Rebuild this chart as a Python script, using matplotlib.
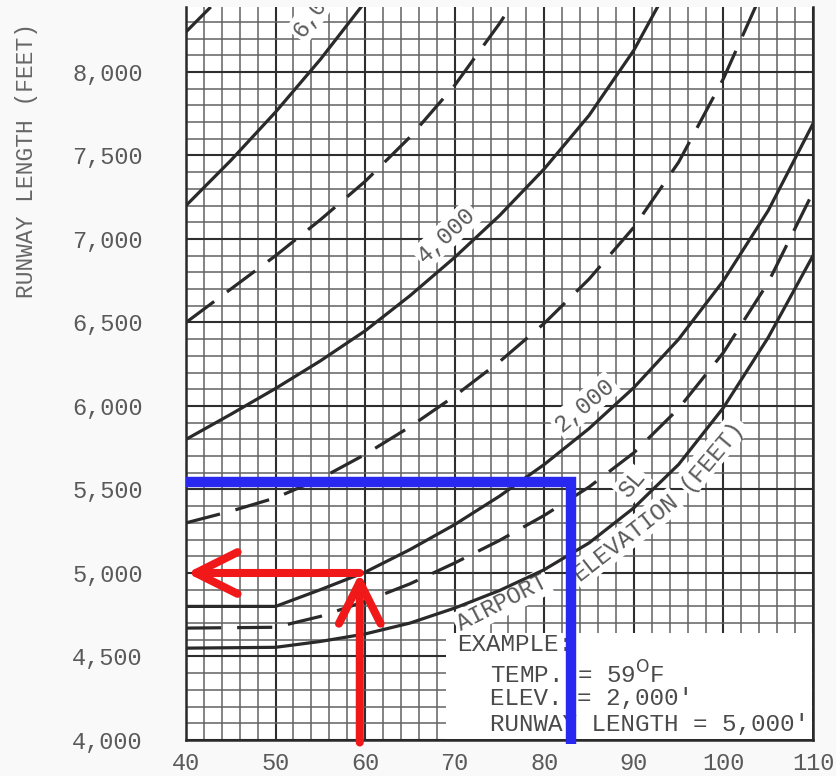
import matplotlib
matplotlib.use("Agg")
import matplotlib.pyplot as plt
from matplotlib.patches import Rectangle
from matplotlib.ticker import MultipleLocator, FixedLocator, FixedFormatter

# ---------------- data ----------------
sl_temp = [40, 50, 55, 60, 65, 70, 75, 80, 85, 90, 95, 100, 105, 110]
sl_len = [4550, 4555, 4590, 4635, 4700, 4790, 4895, 5020, 5180, 5390, 5650, 5990, 6410, 6900]

e1000_temp = [40, 50, 55, 60, 65, 70, 75, 80, 85, 90, 95, 100, 105, 110]
e1000_len = [4670, 4675, 4740, 4830, 4935, 5060, 5195, 5345, 5515, 5720, 5985, 6320, 6740, 7280]

e2000_temp = [40, 50, 55, 60, 65, 70, 75, 80, 85, 90, 95, 100, 105, 110]
e2000_len = [4800, 4800, 4900, 5005, 5140, 5290, 5460, 5650, 5865, 6110, 6400, 6750, 7170, 7690]

e3000_temp = [40, 45, 50, 55, 60, 65, 70, 75, 80, 85, 90, 95, 100, 105]
e3000_len = [5300, 5370, 5450, 5565, 5710, 5875, 6060, 6265, 6495, 6760, 7070, 7460, 7960, 8560]

e4000_temp = [40, 45, 50, 55, 60, 65, 70, 75, 80, 85, 90, 95]
e4000_len = [5800, 5950, 6105, 6270, 6450, 6660, 6890, 7140, 7420, 7740, 8130, 8620]

e5000_temp = [40, 45, 50, 55, 60, 65, 70, 75, 80]
e5000_len = [6500, 6700, 6900, 7115, 7345, 7610, 7920, 8290, 8700]

e6000_temp = [40, 45, 50, 55, 60]
e6000_len = [7200, 7470, 7760, 8075, 8420]

e7000_temp = [40, 45]
e7000_len = [8240, 8510]

x_ticks = [40, 50, 60, 70, 80, 90, 100, 110]
y_ticks = [4000, 4500, 5000, 5500, 6000, 6500, 7000, 7500, 8000]
y_tick_labels = ["4,000", "4,500", "5,000", "5,500", "6,000", "6,500", "7,000", "7,500", "8,000"]

example_temp = 59.4
example_len = 5000
blue_temp = 83.0
blue_len = 5545

# ---------------- figure ----------------
W, H = 837, 776
fig = plt.figure(figsize=(W / 100, H / 100), dpi=100, facecolor="#f9f9f9")
ax = fig.add_axes([186 / W, 1 - 740 / H, 627 / W, 733 / H])
ax.set_facecolor("white")
ax.set_xlim(40, 110)
ax.set_ylim(4000, 8389)

mono = "Liberation Mono"
gray = "#5a5a5a"
ink = "#2a2a2a"

ax.xaxis.set_major_locator(FixedLocator(x_ticks))
ax.xaxis.set_minor_locator(MultipleLocator(2))
ax.yaxis.set_major_locator(FixedLocator(y_ticks))
ax.yaxis.set_major_formatter(FixedFormatter(y_tick_labels))
ax.yaxis.set_minor_locator(MultipleLocator(100))
ax.tick_params(which="both", length=0)
ax.tick_params(axis="y", pad=31, labelsize=17, labelcolor=gray)
ax.tick_params(axis="x", pad=9, labelsize=17, labelcolor=gray)
for lab in ax.get_xticklabels() + ax.get_yticklabels():
    lab.set_family(mono)

ax.set_axisbelow(True)
ax.grid(which="minor", color="#626262", lw=1.1)
ax.grid(which="major", color="#2e2e2e", lw=1.5)

for side in ("left", "bottom", "right"):
    ax.spines[side].set_color(ink)
    ax.spines[side].set_linewidth(1.8)
ax.spines["top"].set_visible(False)

ax.set_ylabel("RUNWAY LENGTH (FEET)", family=mono, fontsize=16.5, color="#666666")
ax.yaxis.set_label_coords(-0.236, 0.79)

# white area behind the example
ax.add_patch(Rectangle((69.0, 4003), 40.9, 640, facecolor="white", edgecolor="none", zorder=1))

# ---------------- curves ----------------
lw = 2.3
dash = (11, 5)
curves = [
    (sl_temp, sl_len, "-"),
    (e1000_temp, e1000_len, "--"),
    (e2000_temp, e2000_len, "-"),
    (e3000_temp, e3000_len, "--"),
    (e4000_temp, e4000_len, "-"),
    (e5000_temp, e5000_len, "--"),
    (e6000_temp, e6000_len, "-"),
    (e7000_temp, e7000_len, "--"),
]
for xs, ys, ls in curves:
    if ls == "--":
        ax.plot(xs, ys, color=ink, lw=lw, dashes=dash, zorder=3, solid_capstyle="butt")
    else:
        ax.plot(xs, ys, color=ink, lw=lw, zorder=3)

# ---------------- curve labels ----------------
lab_kw = dict(family=mono, fontsize=17, color=gray, ha="center", va="center", zorder=2,
              bbox=dict(facecolor="white", edgecolor="none", pad=1.5))
ax.text(54.7, 8395, "6,000", rotation=55, clip_on=True, **lab_kw)
ax.text(69.1, 7024, "4,000", rotation=43, **lab_kw)
ax.text(84.5, 6006, "2,000", rotation=40, **lab_kw)
ax.text(89.8, 5533, "SL", rotation=50, **lab_kw)
ax.text(75.3, 4820, "AIRPORT", rotation=27, **lab_kw)
ax.text(89.0, 5210, "ELEVATION", rotation=38, **lab_kw)
ax.text(98.7, 5707, "(FEET)", rotation=50, **lab_kw)

# ---------------- example text ----------------
ex_kw = dict(family=mono, fontsize=17.5, color="#4a4a4a", ha="left", va="center", zorder=2)
ax.text(70.25, 4569, "EXAMPLE:", **ex_kw)
ax.text(73.9, 4389, r"TEMP. = 59$^{\rm O}$F", **ex_kw)
ax.text(73.9, 4251, "ELEV. = 2,000'", **ex_kw)
ax.text(73.9, 4090, "RUNWAY LENGTH = 5,000'", **ex_kw)

# ---------------- blue and red overlays ----------------
blue = "#2828f0"
red = "#f01818"
ax.plot([40, blue_temp, blue_temp], [blue_len, blue_len, 3975], color=blue, lw=7.5,
        solid_joinstyle="miter", solid_capstyle="butt", clip_on=False, zorder=6)

arrow_style = "->,head_length=30,head_width=15"
ax.annotate("", xy=(example_temp, example_len), xytext=(example_temp, 3985),
            arrowprops=dict(arrowstyle=arrow_style, color=red, lw=5.8, mutation_scale=1,
                            shrinkA=0, shrinkB=0), annotation_clip=False, zorder=7)
ax.annotate("", xy=(40.1, example_len), xytext=(example_temp, example_len),
            arrowprops=dict(arrowstyle=arrow_style, color=red, lw=5.8, mutation_scale=1,
                            shrinkA=0, shrinkB=0), annotation_clip=False, zorder=7)

fig.savefig("out.png", dpi=100, facecolor=fig.get_facecolor())
